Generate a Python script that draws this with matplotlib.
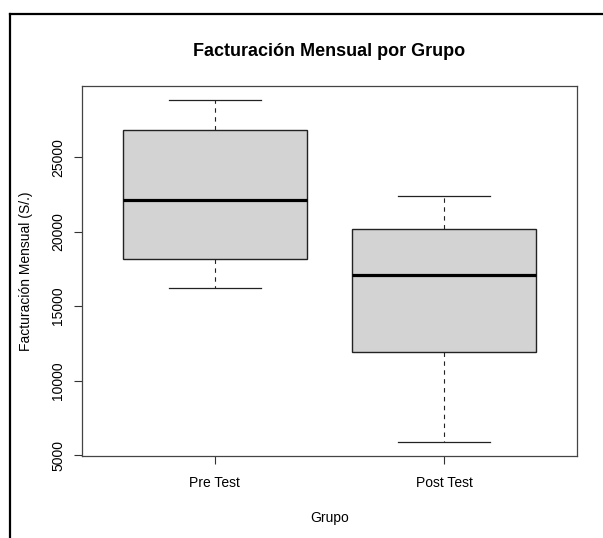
import matplotlib
matplotlib.use("Agg")
import matplotlib.pyplot as plt
from matplotlib.lines import Line2D

plt.rcParams['font.family'] = ['Liberation Sans', 'DejaVu Sans']

groups = ["Pre Test", "Post Test"]
whisker_low = [16250, 5870]
q1 = [18150, 11960]
median = [22090, 17060]
q3 = [26810, 20170]
whisker_high = [28850, 22380]
yticks = [5000, 10000, 15000, 20000, 25000]

W, H = 603, 538
fig = plt.figure(figsize=(W / 100, H / 100), dpi=100)
ax = fig.add_axes([82 / W, 1 - 456 / H, (577 - 82) / W, (456 - 86) / H])

stats = []
for i, g in enumerate(groups):
    stats.append(dict(label=g, whislo=whisker_low[i], q1=q1[i], med=median[i],
                      q3=q3[i], whishi=whisker_high[i], fliers=[]))

ax.bxp(stats, positions=[1, 2], widths=0.8, patch_artist=True, showfliers=False,
       boxprops=dict(facecolor="#D3D3D3", edgecolor="#222222", linewidth=1.0),
       medianprops=dict(color="black", linewidth=2.3, solid_capstyle="butt"),
       whiskerprops=dict(color="#222222", linewidth=0.8, linestyle=(0, (4, 4))),
       capprops=dict(color="#222222", linewidth=0.9), capwidths=0.4)

lo = min(whisker_low); hi = max(whisker_high)
pad = 0.04 * (hi - lo)
ax.set_ylim(lo - pad, hi + pad)
ax.set_xlim(0.42, 2.58)
ax.set_yticks(yticks)
ax.set_yticklabels([str(v) for v in yticks], rotation=90, va="center")
ax.set_xticks([1, 2])
ax.set_xticklabels(groups)
ax.tick_params(axis="both", labelsize=10, length=6, width=0.8, color="#333333")
ax.tick_params(axis="x", pad=8.5)
ax.tick_params(axis="y", pad=6)
for s in ax.spines.values():
    s.set_color("#444444")
    s.set_linewidth(0.9)

ax.set_ylabel("Facturación Mensual (S/.)", fontsize=10, labelpad=13.5)
ax.set_xlabel("Grupo", fontsize=10, labelpad=15)
fig.text(329 / W, 1 - 51 / H, "Facturación Mensual por Grupo", fontsize=13,
         fontweight="bold", ha="center", va="center")

# outer screenshot frame
fig.add_artist(Line2D([10 / W, 1.0], [1 - 13.5 / H, 1 - 13.5 / H], color="black", linewidth=1.6,
                      transform=fig.transFigure))
fig.add_artist(Line2D([10 / W, 10 / W], [0.0, 1 - 13.5 / H], color="black", linewidth=1.6,
                      transform=fig.transFigure))

fig.savefig("out.png", dpi=100)
